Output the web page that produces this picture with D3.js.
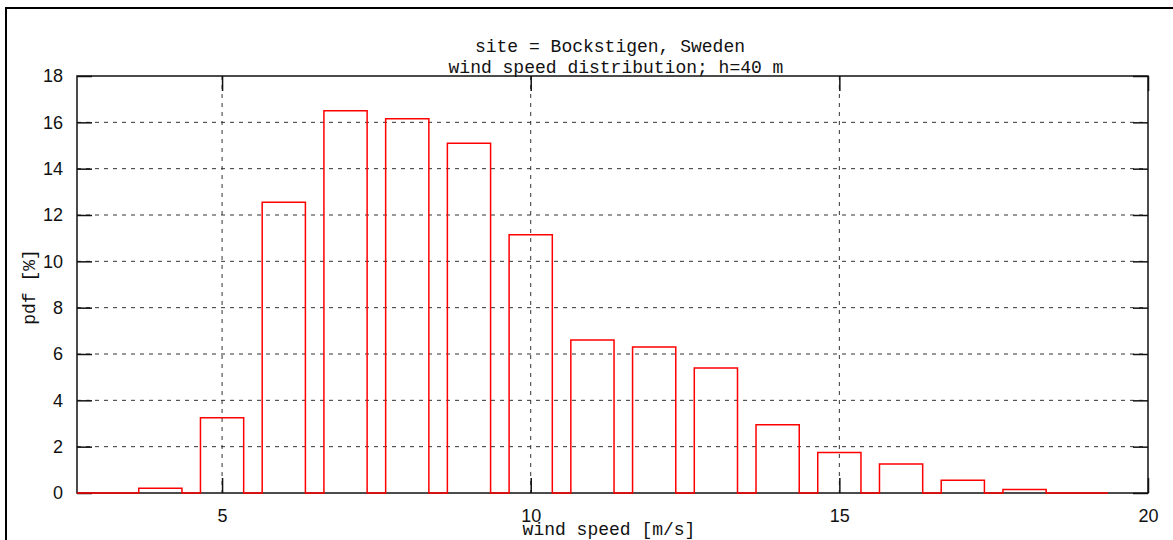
<!DOCTYPE html>
<html>
<head>
<meta charset="utf-8">
<script src="https://cdn.jsdelivr.net/npm/d3@7"></script>
<style>
  body { margin: 0; background: #fff; }
  .mono { font-family: "Liberation Mono", "DejaVu Sans Mono", monospace; font-size: 18px; fill: #111; }
  .tick text { font-family: "Liberation Sans", Arial, sans-serif; font-size: 18px; fill: #111; }
</style>
</head>
<body>
<div id="chart"></div>
<script>
// wind speed bins [m/s] and pdf [%]
const windSpeed = [3, 4, 5, 6, 7, 8, 9, 10, 11, 12, 13, 14, 15, 16, 17, 18, 19];
const pdf = [0, 0.2, 3.25, 12.55, 16.5, 16.15, 15.1, 11.15, 6.6, 6.3, 5.4, 2.95, 1.75, 1.25, 0.55, 0.15, 0];

const xTickValues = [5, 10, 15, 20];
const yTickValues = [0, 2, 4, 6, 8, 10, 12, 14, 16, 18];
const titleLines = ["site = Bockstigen, Sweden", "wind speed distribution; h=40 m"];

const boxWidth = 0.7;

const margin = { top: 76, right: 25, bottom: 47, left: 77 },
  fullWidth = 1173,
  fullHeight = 540,
  width = fullWidth - margin.left - margin.right,
  height = fullHeight - margin.top - margin.bottom;

const root = d3
  .select("#chart")
  .append("svg")
  .attr("width", fullWidth)
  .attr("height", fullHeight);

// outer frame (cropped on the right and bottom)
root
  .append("rect")
  .attr("x", 6)
  .attr("y", 8)
  .attr("width", fullWidth + 20)
  .attr("height", fullHeight + 20)
  .attr("fill", "none")
  .attr("stroke", "#000")
  .attr("stroke-width", 2);

const svg = root
  .append("g")
  .attr("transform", `translate(${margin.left},${margin.top})`);

const x = d3.scaleLinear().domain([2.65, 20]).range([0, width]);
const y = d3.scaleLinear().domain([0, 18]).range([height, 0]);

// grid
svg
  .append("g")
  .selectAll("line")
  .data(yTickValues.slice(1, -1))
  .join("line")
  .attr("x1", 0)
  .attr("x2", width)
  .attr("y1", (d) => y(d))
  .attr("y2", (d) => y(d))
  .attr("stroke", "#333")
  .attr("stroke-dasharray", "4,5");

svg
  .append("g")
  .selectAll("line")
  .data(xTickValues.slice(0, -1))
  .join("line")
  .attr("x1", (d) => x(d))
  .attr("x2", (d) => x(d))
  .attr("y1", 0)
  .attr("y2", height)
  .attr("stroke", "#333")
  .attr("stroke-dasharray", "4,5");

// border
svg
  .append("rect")
  .attr("width", width)
  .attr("height", height)
  .attr("fill", "none")
  .attr("stroke", "#111")
  .attr("stroke-width", 1.5);

// axes, ticks pointing inward
const tickLen = 15;

const gx = svg
  .append("g")
  .attr("transform", `translate(0,${height})`)
  .call(d3.axisBottom(x).tickValues(xTickValues).tickSize(-tickLen).tickFormat(d3.format("d")));
gx.selectAll("text").attr("y", 29).attr("dy", null);

svg
  .append("g")
  .call(d3.axisTop(x).tickValues(xTickValues).tickSize(-tickLen).tickFormat(""));

svg
  .append("g")
  .call(d3.axisLeft(y).tickValues(yTickValues).tickSize(-tickLen).tickPadding(14));

svg
  .append("g")
  .attr("transform", `translate(${width},0)`)
  .call(d3.axisRight(y).tickValues(yTickValues).tickSize(-tickLen).tickFormat(""));

svg.selectAll(".domain").remove();
svg.selectAll(".tick line").attr("stroke", "#111").attr("stroke-width", 1.5);

// boxes as one step outline along the zero line
const boxPoints = windSpeed.flatMap((d, i) => [
  [x(d - boxWidth / 2), y(0)],
  [x(d - boxWidth / 2), y(pdf[i])],
  [x(d + boxWidth / 2), y(pdf[i])],
  [x(d + boxWidth / 2), y(0)],
]);

svg
  .append("path")
  .attr("d", d3.line()(boxPoints))
  .attr("fill", "none")
  .attr("stroke", "#ff0000")
  .attr("stroke-width", 1.5);

// titles and labels
root
  .append("text")
  .attr("class", "mono")
  .attr("x", 610)
  .attr("y", 52)
  .attr("text-anchor", "middle")
  .text(titleLines[0]);

root
  .append("text")
  .attr("class", "mono")
  .attr("x", 616)
  .attr("y", 73)
  .attr("text-anchor", "middle")
  .text(titleLines[1]);

root
  .append("text")
  .attr("class", "mono")
  .attr("x", 609)
  .attr("y", 535)
  .attr("text-anchor", "middle")
  .text("wind speed [m/s]");

root
  .append("text")
  .attr("class", "mono")
  .attr("transform", "translate(35,287) rotate(-90)")
  .attr("text-anchor", "middle")
  .text("pdf [%]");
</script>
</body>
</html>
